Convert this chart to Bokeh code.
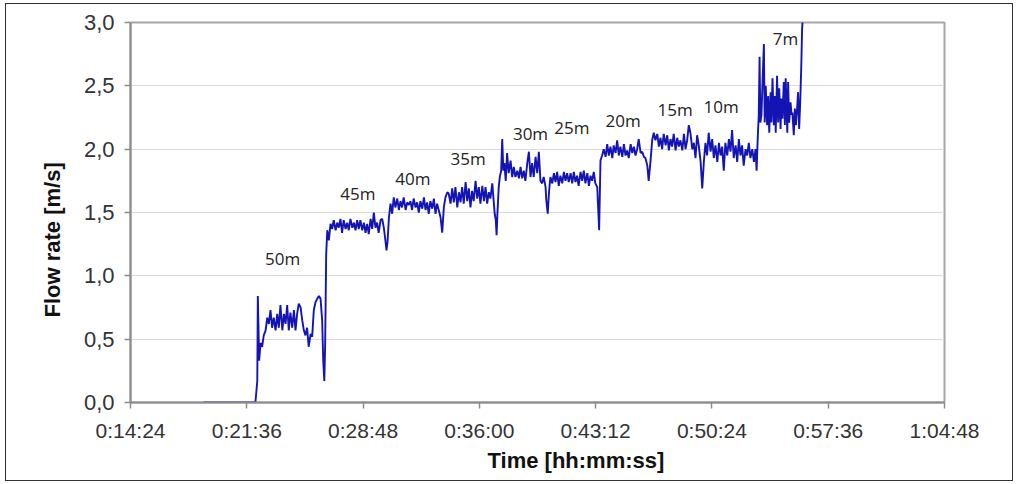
from bokeh.plotting import figure
from bokeh.models import Range1d, FixedTicker, CustomJSTickFormatter, Title, ColumnDataSource
from bokeh.core.properties import value
from bokeh.embed import file_html
from bokeh.resources import INLINE

# ---- data (time in seconds since 0:00:00, flow rate in m/s) ----
time_s = [
    1135, 1328, 1335, 1337, 1342, 1347, 1353, 1359, 1366, 1372, 1378, 1384, 1390, 1396, 1403, 1409,
    1415, 1421, 1428, 1434, 1440, 1446, 1452, 1458, 1465, 1471, 1477, 1483, 1489, 1496, 1502, 1508,
    1514, 1520, 1526, 1533, 1539, 1545, 1551, 1558, 1564, 1570, 1576, 1580, 1584, 1587, 1591, 1595,
    1601, 1607, 1613, 1619, 1626, 1632, 1638, 1644, 1650, 1656, 1663, 1669, 1675, 1681, 1688, 1694,
    1700, 1706, 1712, 1718, 1725, 1731, 1737, 1743, 1749, 1756, 1762, 1768, 1774, 1780, 1786, 1793,
    1799, 1805, 1811, 1815, 1819, 1824, 1830, 1836, 1842, 1848, 1855, 1861, 1867, 1873, 1879, 1886,
    1892, 1898, 1904, 1910, 1916, 1923, 1929, 1935, 1941, 1948, 1954, 1960, 1966, 1972, 1978, 1985,
    1991, 1997, 2003, 2009, 2016, 2022, 2028, 2034, 2041, 2046, 2053, 2059, 2065, 2071, 2078, 2084,
    2090, 2096, 2102, 2109, 2115, 2121, 2127, 2133, 2139, 2146, 2152, 2158, 2164, 2171, 2177, 2183,
    2189, 2195, 2201, 2208, 2214, 2217, 2221, 2224, 2227, 2232, 2236, 2241, 2245, 2249, 2253, 2258,
    2263, 2269, 2276, 2282, 2288, 2294, 2301, 2307, 2313, 2319, 2325, 2331, 2338, 2344, 2350, 2356,
    2362, 2369, 2375, 2381, 2387, 2393, 2399, 2406, 2409, 2414, 2419, 2424, 2431, 2437, 2443, 2449,
    2455, 2461, 2468, 2474, 2480, 2486, 2492, 2499, 2505, 2511, 2517, 2523, 2529, 2536, 2542, 2548,
    2554, 2561, 2567, 2573, 2579, 2585, 2591, 2598, 2601, 2605, 2610, 2616, 2622, 2629, 2635, 2641,
    2647, 2654, 2659, 2666, 2672, 2678, 2684, 2691, 2697, 2703, 2709, 2715, 2722, 2728, 2734, 2740,
    2746, 2752, 2759, 2765, 2771, 2777, 2784, 2789, 2796, 2802, 2808, 2814, 2821, 2827, 2833, 2839,
    2845, 2852, 2858, 2864, 2870, 2876, 2882, 2889, 2895, 2901, 2907, 2914, 2920, 2926, 2932, 2938,
    2944, 2951, 2957, 2963, 2969, 2975, 2982, 2988, 2994, 3000, 3006, 3012, 3019, 3025, 3031, 3037,
    3044, 3050, 3056, 3062, 3068, 3074, 3081, 3087, 3093, 3099, 3105, 3112, 3118, 3124, 3130, 3136,
    3142, 3149, 3155, 3161, 3167, 3174, 3180, 3186, 3190, 3194, 3198, 3201, 3204, 3208, 3212, 3217,
    3220, 3224, 3229, 3233, 3237, 3242, 3245, 3249, 3254, 3258, 3261, 3266, 3270, 3274, 3279, 3282,
    3286, 3291, 3295, 3298, 3304, 3307, 3311, 3316, 3320, 3323, 3328, 3332, 3336, 3341, 3344, 3348,
    3352, 3356, 3359, 3362,
]
flow_ms = [
    0.00, 0.00, 0.17, 0.84, 0.33, 0.47, 0.44, 0.53, 0.57, 0.67, 0.62, 0.73, 0.59, 0.67, 0.57, 0.70,
    0.59, 0.77, 0.57, 0.70, 0.62, 0.77, 0.57, 0.71, 0.59, 0.73, 0.57, 0.70, 0.78, 0.75, 0.65, 0.57,
    0.53, 0.59, 0.44, 0.54, 0.52, 0.73, 0.79, 0.82, 0.84, 0.82, 0.65, 0.33, 0.17, 0.44, 1.17, 1.36,
    1.28, 1.41, 1.37, 1.44, 1.36, 1.42, 1.38, 1.45, 1.34, 1.44, 1.37, 1.42, 1.36, 1.45, 1.38, 1.42,
    1.36, 1.44, 1.37, 1.44, 1.36, 1.42, 1.34, 1.41, 1.33, 1.45, 1.37, 1.50, 1.38, 1.42, 1.34, 1.44,
    1.45, 1.38, 1.28, 1.20, 1.27, 1.46, 1.57, 1.49, 1.62, 1.54, 1.61, 1.52, 1.59, 1.54, 1.62, 1.52,
    1.58, 1.56, 1.59, 1.52, 1.61, 1.54, 1.58, 1.50, 1.59, 1.53, 1.62, 1.52, 1.58, 1.49, 1.59, 1.53,
    1.61, 1.49, 1.57, 1.52, 1.46, 1.34, 1.54, 1.62, 1.66, 1.65, 1.57, 1.69, 1.58, 1.70, 1.54, 1.66,
    1.58, 1.70, 1.57, 1.74, 1.59, 1.69, 1.54, 1.67, 1.59, 1.75, 1.61, 1.70, 1.57, 1.71, 1.59, 1.70,
    1.57, 1.66, 1.61, 1.73, 1.57, 1.49, 1.44, 1.32, 1.49, 1.70, 1.78, 1.83, 2.08, 1.83, 1.89, 1.75,
    1.97, 1.81, 1.91, 1.78, 1.86, 1.78, 1.83, 1.77, 1.86, 1.77, 1.83, 1.75, 1.89, 1.98, 1.78, 1.89,
    1.78, 1.94, 1.81, 1.98, 1.75, 1.73, 1.78, 1.70, 1.59, 1.49, 1.67, 1.78, 1.73, 1.81, 1.74, 1.82,
    1.71, 1.79, 1.73, 1.82, 1.75, 1.81, 1.74, 1.81, 1.73, 1.82, 1.74, 1.79, 1.71, 1.82, 1.75, 1.83,
    1.73, 1.81, 1.71, 1.79, 1.75, 1.82, 1.73, 1.70, 1.55, 1.36, 1.91, 1.95, 2.00, 1.94, 2.04, 1.95,
    2.02, 1.93, 2.03, 1.97, 2.07, 1.95, 2.02, 1.94, 2.04, 1.95, 1.99, 1.93, 2.04, 1.97, 2.02, 1.95,
    2.00, 2.08, 1.97, 1.98, 1.94, 1.93, 1.87, 1.75, 1.91, 2.07, 2.13, 2.07, 2.12, 2.02, 2.09, 2.00,
    2.12, 2.03, 2.11, 1.99, 2.08, 2.02, 2.12, 1.99, 2.09, 2.02, 2.07, 1.99, 2.12, 2.00, 2.07, 2.19,
    2.13, 2.00, 2.05, 1.93, 2.11, 2.03, 1.90, 1.69, 1.90, 2.05, 1.95, 2.13, 1.98, 2.08, 1.93, 2.03,
    1.90, 2.05, 1.95, 2.02, 1.83, 2.05, 1.95, 2.08, 1.98, 2.15, 1.93, 2.03, 1.90, 2.08, 1.95, 2.03,
    1.87, 2.00, 1.95, 2.05, 1.93, 2.00, 1.90, 2.00, 1.83, 2.08, 2.27, 2.73, 2.21, 2.27, 2.53, 2.83,
    2.21, 2.50, 2.19, 2.42, 2.13, 2.45, 2.21, 2.56, 2.19, 2.42, 2.13, 2.58, 2.21, 2.48, 2.16, 2.40,
    2.24, 2.53, 2.19, 2.56, 2.13, 2.53, 2.21, 2.37, 2.27, 2.29, 2.11, 2.32, 2.19, 2.34, 2.45, 2.16,
    2.37, 2.66, 2.95, 3.05,
]

# distance annotations
dist_labels = ["50m", "45m", "40m", "35m", "30m", "25m", "20m", "15m", "10m", "7m"]
dist_time_s = [1429, 1709, 1913, 2118, 2350, 2504, 2694, 2887, 3058, 3297]
dist_flow = [1.14, 1.65, 1.77, 1.93, 2.12, 2.17, 2.23, 2.31, 2.34, 2.87]

# axis ticks
x_tick_s = [864, 1296, 1728, 2160, 2592, 3024, 3456, 3888]
x_tick_labels = ["0:14:24", "0:21:36", "0:28:48", "0:36:00", "0:43:12", "0:50:24", "0:57:36", "1:04:48"]
y_ticks = [0.0, 0.5, 1.0, 1.5, 2.0, 2.5, 3.0]

p = figure(width=1008, height=478, output_backend="svg", toolbar_location=None,
           x_range=Range1d(x_tick_s[0], x_tick_s[-1]), y_range=Range1d(0, 3.0),
           min_border_left=124, min_border_right=70, min_border_top=18, min_border_bottom=80)
p.styles = {"border": "1px solid #333333", "margin-left": "5px", "margin-top": "3px"}
p.background_fill_color = "white"
p.border_fill_color = "white"
p.outline_line_color = "#a6a6a6"
p.outline_line_width = 2

p.xgrid.grid_line_color = None
p.ygrid.grid_line_color = "#d9d9d9"
p.ygrid.grid_line_width = 1

p.line(time_s, flow_ms, line_color="#1414b4", line_width=1.9)

src = ColumnDataSource(dict(x=dist_time_s, y=dist_flow, t=dist_labels))
p.text(x="x", y="y", text="t", source=src, text_align="center", text_baseline="middle",
       text_font=value("Open Sans"), text_font_size="17px", text_color="#222222")

for ax in (p.xaxis[0], p.yaxis[0]):
    ax.axis_line_color = "#8c8c8c"
    ax.axis_line_width = 2
    ax.major_tick_line_color = "#8c8c8c"
    ax.major_tick_line_width = 1.5
    ax.major_tick_out = 6
    ax.major_tick_in = 0
    ax.minor_tick_line_color = None
    ax.major_label_text_font = "Liberation Sans"
    ax.major_label_text_font_size = "21px"
    ax.major_label_text_color = "#333333"

p.xaxis.ticker = FixedTicker(ticks=x_tick_s)
p.xaxis.major_label_overrides = {t: lab for t, lab in zip(x_tick_s, x_tick_labels)}
p.xaxis.major_label_standoff = 10
p.yaxis.ticker = FixedTicker(ticks=y_ticks)
p.yaxis.formatter = CustomJSTickFormatter(code="return tick.toFixed(1).replace('.', ',');")
p.yaxis.major_label_text_font_size = "22px"
p.yaxis.major_label_standoff = 10

xt = Title(text="Time [hh:mm:ss]", align="left", offset=357, standoff=2,
           text_font="Liberation Sans", text_font_size="22px", text_font_style="bold",
           text_color="#111111")
p.add_layout(xt, "below")
yt = Title(text="Flow rate [m/s]", align="left", offset=85, standoff=32,
           text_font="Liberation Sans", text_font_size="22px", text_font_style="bold",
           text_color="#111111")
p.add_layout(yt, "left")

open("out.html", "w").write(file_html(p, INLINE))
